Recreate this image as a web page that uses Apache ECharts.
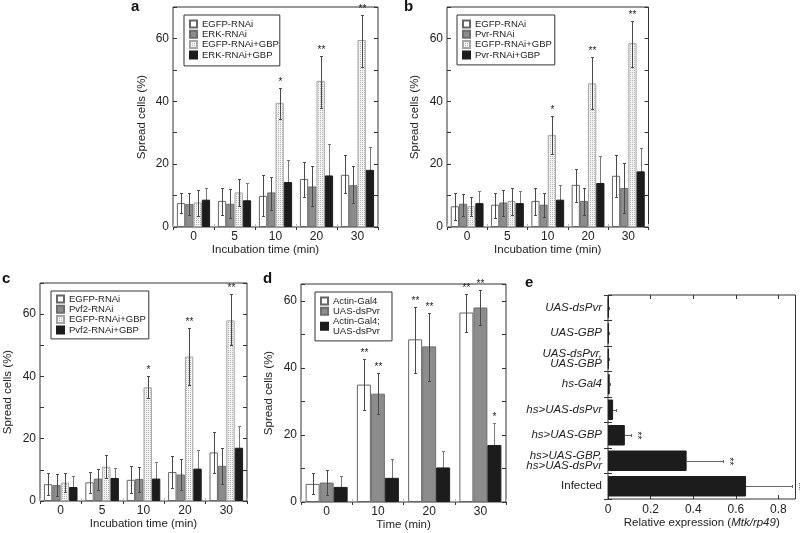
<!DOCTYPE html>
<html><head><meta charset="utf-8">
<script src="https://cdn.jsdelivr.net/npm/echarts@6/dist/echarts.min.js"></script>
<style>html,body{margin:0;padding:0;background:#fff}#c{width:800px;height:533px}</style>
</head><body><div id="c"></div>
<script>
// ---------------- DATA ----------------
const timeCats = ['0', '5', '10', '20', '30'];
const dCats = ['0', '10', '20', '30'];
const eCats = ['UAS-dsPvr', 'UAS-GBP', 'UAS-dsPvr,\nUAS-GBP', 'hs-Gal4', 'hs>UAS-dsPvr', 'hs>UAS-GBP', 'hs>UAS-GBP,\nhs>UAS-dsPvr', 'Infected'];

// panel a
const a_egfp = [7.6, 8.3, 9.9, 15.3, 16.6];
const a_egfp_lo = [4.4, 3.9, 3.6, 9.7, 10.8];
const a_egfp_hi = [10.8, 12.4, 16.6, 20.8, 23.0];
const a_erk = [7.3, 7.4, 11.0, 12.9, 13.3];
const a_erk_lo = [3.9, 2.9, 5.5, 6.6, 7.6];
const a_erk_hi = [10.8, 12.1, 15.9, 19.3, 19.3];
const a_egfpGbp = [7.8, 11.0, 39.5, 46.5, 59.5];
const a_egfpGbp_lo = [3.6, 6.6, 34.5, 38.0, 51.0];
const a_egfpGbp_hi = [11.9, 15.2, 44.3, 54.4, 67.6];
const a_erkGbp = [8.7, 8.5, 14.3, 16.4, 18.2];
const a_erkGbp_lo = [4.4, 3.4, 6.6, 6.6, 10.3];
const a_erkGbp_hi = [12.4, 14.0, 21.4, 26.5, 25.6];
const a_stars = ['', '', '*', '**', '**'];

// panel b
const b_egfp = [6.6, 7.1, 8.3, 13.4, 16.3];
const b_egfp_lo = [2.3, 2.9, 3.9, 8.1, 9.5];
const b_egfp_hi = [10.8, 10.8, 12.4, 18.4, 23.0];
const b_pvr = [7.4, 7.8, 7.1, 8.3, 12.4];
const b_pvr_lo = [3.6, 3.4, 3.2, 3.9, 4.4];
const b_pvr_hi = [10.6, 11.9, 10.8, 12.4, 20.3];
const b_egfpGbp = [6.6, 8.3, 29.3, 45.7, 58.5];
const b_egfpGbp_lo = [3.4, 3.9, 23.3, 37.5, 51.0];
const b_egfpGbp_hi = [9.7, 12.4, 35.3, 54.0, 65.6];
const b_pvrGbp = [7.6, 7.6, 8.7, 14.0, 17.7];
const b_pvrGbp_lo = [3.9, 3.6, 4.4, 5.5, 9.7];
const b_pvrGbp_hi = [11.3, 11.3, 13.4, 22.6, 25.0];
const b_stars = ['', '', '*', '**', '**'];

// panel c
const c_egfp = [5.4, 6.0, 6.8, 9.3, 15.6];
const c_egfp_lo = [1.9, 2.7, 2.5, 4.1, 8.9];
const c_egfp_hi = [8.9, 9.4, 11.3, 14.3, 22.1];
const c_pvf2 = [5.1, 7.2, 7.1, 8.5, 11.3];
const c_pvf2_lo = [1.7, 3.5, 3.0, 3.5, 5.4];
const c_pvf2_hi = [8.6, 10.3, 11.0, 13.5, 16.9];
const c_egfpGbp = [5.9, 11.0, 36.5, 46.4, 58.0];
const c_egfpGbp_lo = [2.8, 7.3, 33.0, 37.1, 50.0];
const c_egfpGbp_hi = [8.9, 14.8, 40.2, 55.5, 66.6];
const c_pvf2Gbp = [4.5, 7.4, 7.2, 10.4, 17.1];
const c_pvf2Gbp_lo = [1.4, 4.1, 2.5, 4.6, 10.0];
const c_pvf2Gbp_hi = [8.0, 10.5, 12.5, 16.4, 24.2];
const c_stars = ['', '', '*', '**', '**'];

// panel d
const d_actin = [5.4, 35.0, 48.5, 56.5];
const d_actin_lo = [2.3, 27.4, 38.6, 50.8];
const d_actin_hi = [8.7, 42.7, 58.0, 62.0];
const d_uas = [5.8, 32.3, 46.4, 58.0];
const d_uas_lo = [2.0, 26.3, 36.0, 52.8];
const d_uas_hi = [9.5, 38.6, 56.3, 63.2];
const d_both = [4.5, 7.2, 10.3, 17.0];
const d_both_lo = [1.3, 1.7, 5.2, 10.0];
const d_both_hi = [7.8, 12.7, 15.3, 23.7];
const d_stars_actin = ['', '**', '**', '**'];
const d_stars_uas = ['', '**', '**', '**'];
const d_stars_both = ['', '', '', '*'];

// panel e
const e_val = [0.003, 0.003, 0.003, 0.008, 0.024, 0.079, 0.369, 0.648];
const e_hi = [0.004, 0.004, 0.004, 0.010, 0.039, 0.110, 0.541, 0.862];
const e_stars = ['', '', '', '', '', '**', '**', '**'];

// ---------------- STYLE ----------------
const FONT = '"Liberation Sans", Arial, Helvetica, sans-serif';
const TXT = '#222';
const FRAME = '#333';
const dotCanvas = (function () {
  const cv = document.createElement('canvas'); cv.width = 2; cv.height = 2;
  const g = cv.getContext('2d');
  g.fillStyle = '#f4f4f4'; g.fillRect(0, 0, 2, 2);
  g.fillStyle = '#b4b4b4'; g.fillRect(0, 0, 1, 1);
  return cv;
})();
const STY = {
  white: { color: '#ffffff', borderColor: '#666', borderWidth: 1 },
  gray: { color: '#8c8c8c', borderColor: '#6e6e6e', borderWidth: 1 },
  dot: { color: { image: dotCanvas, repeat: 'repeat' }, borderColor: '#a5a5a5', borderWidth: 1 },
  black: { color: '#1c1c1c', borderColor: '#1c1c1c', borderWidth: 1 }
};

const panels = [
  { grid: { left: 173, top: 7, width: 205, height: 220 }, cats: timeCats, max: 70, barW: 8.3,
    xName: 'Incubation time (min)', xNamePad: [0, 20, 0, 0], yGap: 25,
    legend: { left: 184, top: 15, padding: [4, 1, 6, 5] },
    series: [
      ['EGFP-RNAi', 'white', a_egfp, a_egfp_lo, a_egfp_hi, null],
      ['ERK-RNAi', 'gray', a_erk, a_erk_lo, a_erk_hi, null],
      ['EGFP-RNAi+GBP', 'dot', a_egfpGbp, a_egfpGbp_lo, a_egfpGbp_hi, a_stars],
      ['ERK-RNAi+GBP', 'black', a_erkGbp, a_erkGbp_lo, a_erkGbp_hi, null]] },
  { grid: { left: 447, top: 7, width: 201.5, height: 220 }, cats: timeCats, max: 70, barW: 8.2,
    xName: 'Incubation time (min)', xNamePad: [0, 0, 0, 0], yGap: 26,
    legend: { left: 457, top: 15, padding: [4, 3, 5, 5] },
    series: [
      ['EGFP-RNAi', 'white', b_egfp, b_egfp_lo, b_egfp_hi, null],
      ['Pvr-RNAi', 'gray', b_pvr, b_pvr_lo, b_pvr_hi, null],
      ['EGFP-RNAi+GBP', 'dot', b_egfpGbp, b_egfpGbp_lo, b_egfpGbp_hi, b_stars],
      ['Pvr-RNAi+GBP', 'black', b_pvrGbp, b_pvrGbp_lo, b_pvrGbp_hi, null]] },
  { grid: { left: 40, top: 283, width: 207, height: 218 }, cats: timeCats, max: 70, barW: 8.4,
    xName: 'Incubation time (min)', xNamePad: [0, 0, 0, 0], yGap: 26,
    legend: { left: 51, top: 291, padding: [3, 3, 4, 5] },
    series: [
      ['EGFP-RNAi', 'white', c_egfp, c_egfp_lo, c_egfp_hi, null],
      ['Pvf2-RNAi', 'gray', c_pvf2, c_pvf2_lo, c_pvf2_hi, null],
      ['EGFP-RNAi+GBP', 'dot', c_egfpGbp, c_egfpGbp_lo, c_egfpGbp_hi, c_stars],
      ['Pvf2-RNAi+GBP', 'black', c_pvf2Gbp, c_pvf2Gbp_lo, c_pvf2Gbp_hi, null]] },
  { grid: { left: 301, top: 284, width: 205, height: 218 }, cats: dCats, max: 65, barW: 14,
    xName: 'Time (min)', xNamePad: [0, 0, 0, 0], yGap: 26,
    legend: { left: 315, top: 292, padding: [4, 12, 5, 5] },
    series: [
      ['Actin-Gal4', 'white', d_actin, d_actin_lo, d_actin_hi, d_stars_actin],
      ['UAS-dsPvr', 'gray', d_uas, d_uas_lo, d_uas_hi, d_stars_uas],
      ['Actin-Gal4;\nUAS-dsPvr', 'black', d_both, d_both_lo, d_both_hi, d_stars_both]] }
];

const textBase = { fontFamily: FONT, color: TXT, fontSize: 11.5 };
const tickText = { fontFamily: FONT, color: TXT, fontSize: 12 };
const option = { animation: false, backgroundColor: '#fff', textStyle: { fontFamily: FONT },
  title: [], legend: [], grid: [], xAxis: [], yAxis: [], series: [] };

const letters = [['a', 131, -1], ['b', 404, -1], ['c', 2, 271], ['d', 263, 271], ['e', 525, 275]];
letters.forEach(l => option.title.push({ text: l[0], left: l[1], top: l[2], padding: 0,
  textStyle: { fontFamily: FONT, fontSize: 15, fontWeight: 'bold', color: '#111' } }));

function errSeries(ax, cats, n, idx, w, lo, hi, stars, color, z) {
  return { type: 'custom', xAxisIndex: ax, yAxisIndex: ax, z: z, silent: true,
    encode: { x: 0, y: [1, 2] },
    data: cats.map((c, i) => [i, lo[i], hi[i]]),
    renderItem: function (params, api) {
      const i = api.value(0);
      const top = api.coord([i, api.value(2)]);
      const bot = api.coord([i, api.value(1)]);
      const x = Math.round(top[0] + (idx - (n - 1) / 2) * w) + 0.5;
      const yt = Math.round(top[1]) + 0.5, yb = Math.round(bot[1]) + 0.5;
      const cap = 1.5;
      const ls = { stroke: color, lineWidth: 1 };
      const ch = [
        { type: 'line', shape: { x1: x, y1: yt, x2: x, y2: yb }, style: ls },
        { type: 'line', shape: { x1: x - cap, y1: yt, x2: x + cap, y2: yt }, style: ls },
        { type: 'line', shape: { x1: x - cap, y1: yb, x2: x + cap, y2: yb }, style: ls }
      ];
      const s = stars ? stars[params.dataIndex] : '';
      if (s) ch.push({ type: 'text', style: { text: s, x: x, y: yt - 1, align: 'center', verticalAlign: 'bottom',
        fontSize: 10, fontFamily: FONT, fill: TXT } });
      return { type: 'group', children: ch };
    } };
}

panels.forEach((p, pi) => {
  option.grid.push(Object.assign({ show: true, borderColor: FRAME, borderWidth: 1, containLabel: false }, p.grid));
  const xi = option.xAxis.length;
  option.xAxis.push({ gridIndex: pi, type: 'category', data: p.cats, position: 'bottom',
    axisLine: { show: false }, axisTick: { show: true, inside: true, length: 3, interval: 0, lineStyle: { color: '#bbb' } },
    axisLabel: Object.assign({ margin: 4 }, tickText),
    name: p.xName, nameLocation: 'middle', nameGap: 14,
    nameTextStyle: Object.assign({ padding: p.xNamePad, verticalAlign: 'top' }, textBase) });
  option.xAxis.push({ gridIndex: pi, type: 'category', data: p.cats, position: 'top',
    axisLine: { show: false }, axisTick: { show: true, inside: true, length: 3, interval: 0, lineStyle: { color: FRAME } },
    axisLabel: { show: false } });
  option.yAxis.push({ gridIndex: pi, type: 'value', min: 0, max: p.max, interval: 10, position: 'left',
    axisLine: { show: false }, splitLine: { show: false },
    axisTick: { show: true, inside: true, length: 4, lineStyle: { color: FRAME } },
    axisLabel: Object.assign({ margin: 4, formatter: v => (v % 20 === 0 ? String(v) : '') }, tickText),
    name: 'Spread cells (%)', nameLocation: 'middle', nameGap: p.yGap, nameRotate: 90,
    nameTextStyle: Object.assign({}, textBase) });
  option.yAxis.push({ gridIndex: pi, type: 'value', min: 0, max: p.max, interval: 10, position: 'right',
    axisLine: { show: false }, splitLine: { show: false },
    axisTick: { show: true, inside: true, length: 4, lineStyle: { color: FRAME } }, axisLabel: { show: false } });
  const ax = xi;
  const n = p.series.length;
  p.series.forEach((s, si) => {
    option.series.push({ type: 'bar', name: s[0], xAxisIndex: ax, yAxisIndex: ax, data: s[2],
      barWidth: p.barW, barGap: '0%', itemStyle: STY[s[1]], z: 2 });
    const under = s[1] === 'black';
    option.series.push(errSeries(ax, p.cats, n, si, p.barW, s[3], s[4], s[5], under ? '#777' : '#4a4a4a', under ? 1 : 3));
  });
  option.legend.push({ data: p.series.map(s => s[0]), orient: 'vertical', left: p.legend.left, top: p.legend.top,
    padding: p.legend.padding, itemWidth: 7, itemHeight: 7, itemGap: 0.3, icon: 'rect', selectedMode: false,
    borderColor: FRAME, borderWidth: 1, backgroundColor: '#fff',
    textStyle: { fontFamily: FONT, fontSize: 9.5, color: TXT, lineHeight: 9.3 } });
});

// panel e
const pe = 4;
option.grid.push({ show: true, borderColor: FRAME, borderWidth: 1, left: 608, top: 295, width: 187.5, height: 204 });
const isStep = v => Math.abs(v * 5 - Math.round(v * 5)) < 1e-6;
option.xAxis.push({ gridIndex: pe, type: 'value', min: 0, max: 0.88, interval: 0.2, position: 'bottom',
  axisLine: { show: false }, splitLine: { show: false },
  axisTick: { show: true, inside: true, length: 4, lineStyle: { color: FRAME } },
  axisLabel: Object.assign({ margin: 5, formatter: v => (isStep(v) ? (v === 0 ? '0' : String(+v.toFixed(1))) : '') }, tickText),
  name: '{n|Relative expression (}{i|Mtk/rp49}{n|)}', nameLocation: 'middle', nameGap: 17,
  nameTextStyle: Object.assign({ verticalAlign: 'top', rich: {
    n: { fontFamily: FONT, fontSize: 11.5, color: TXT },
    i: { fontFamily: FONT, fontSize: 11.5, color: TXT, fontStyle: 'italic' } } }, textBase) });
option.xAxis.push({ gridIndex: pe, type: 'value', min: 0, max: 0.88, interval: 0.2, position: 'top',
  axisLine: { show: false }, splitLine: { show: false },
  axisTick: { show: true, inside: true, length: 4, lineStyle: { color: FRAME } }, axisLabel: { show: false } });
option.yAxis.push({ gridIndex: pe, type: 'category', data: eCats, inverse: true, position: 'left',
  axisLine: { show: false }, axisTick: { show: true, inside: true, length: 4, interval: 0, lineStyle: { color: FRAME } },
  axisLabel: { margin: 6, interval: 0, align: 'right',
    formatter: v => (v === 'Infected' ? '{n|Infected}' : v.split('\n').map(t => '{i|' + t + '}').join('\n')),
    rich: { n: { fontFamily: FONT, fontSize: 11.5, color: TXT, lineHeight: 10.5 },
            i: { fontFamily: FONT, fontSize: 11.5, color: TXT, fontStyle: 'italic', lineHeight: 10.5 } } } });
option.yAxis.push({ gridIndex: pe, type: 'category', data: eCats, inverse: true, position: 'right',
  axisLine: { show: false }, axisTick: { show: true, inside: true, length: 4, interval: 0, lineStyle: { color: FRAME } },
  axisLabel: { show: false } });
option.series.push({ type: 'bar', name: 'Mtk', xAxisIndex: 8, yAxisIndex: 8, data: e_val, barWidth: 20.5,
  itemStyle: STY.black, z: 2 });
option.series.push({ type: 'custom', xAxisIndex: 8, yAxisIndex: 8, z: 1, silent: true,
  encode: { x: [0, 1], y: 2 },
  data: eCats.map((c, i) => [e_val[i], e_hi[i], i]),
  renderItem: function (params, api) {
    const i = api.value(2);
    const a = api.coord([api.value(0), i]);
    const b = api.coord([api.value(1), i]);
    const y = Math.round(a[1]) + 0.5;
    const xe = Math.round(b[0]) + 0.5;
    const ls = { stroke: '#666', lineWidth: 1 };
    const ch = [
      { type: 'line', shape: { x1: a[0], y1: y, x2: xe, y2: y }, style: ls },
      { type: 'line', shape: { x1: xe, y1: y - 1.5, x2: xe, y2: y + 1.5 }, style: ls }
    ];
    const s = e_stars[params.dataIndex];
    if (s) ch.push({ type: 'text', x: xe + 5.5, y: y, rotation: -Math.PI / 2,
      style: { text: s, x: 0, y: 0, align: 'center', verticalAlign: 'middle', fontSize: 10, fontFamily: FONT, fill: TXT } });
    return { type: 'group', children: ch };
  } });

const chart = echarts.init(document.getElementById('c'), null, { renderer: 'canvas' });
chart.setOption(option);
</script>
</body></html>
